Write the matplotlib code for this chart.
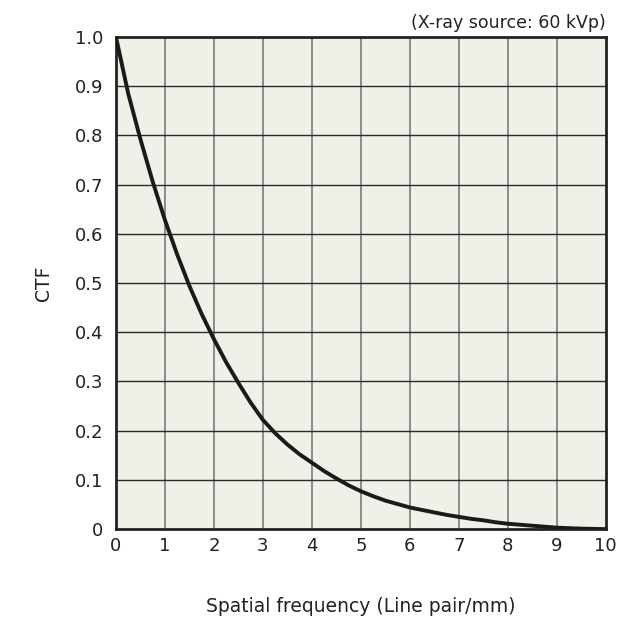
import numpy as np
import matplotlib.pyplot as plt

# values
FREQ = [0, 0.25, 0.5, 0.75, 1, 1.25, 1.5, 1.75, 2, 2.25, 2.5, 2.75, 3, 3.25, 3.5, 3.75,
        4, 4.25, 4.5, 4.75, 5, 5.25, 5.5, 5.75, 6, 6.25, 6.5, 6.75, 7, 7.25, 7.5, 7.75,
        8, 8.25, 8.5, 8.75, 9, 9.25, 9.5, 9.75, 10]
CTF = [1.0, 0.885, 0.792, 0.706, 0.628, 0.558, 0.494, 0.437, 0.386, 0.339, 0.297, 0.257,
       0.222, 0.195, 0.172, 0.152, 0.135, 0.118, 0.103, 0.089, 0.077, 0.067, 0.058, 0.051,
       0.044, 0.039, 0.034, 0.029, 0.025, 0.021, 0.018, 0.014, 0.011, 0.009, 0.007, 0.005,
       0.003, 0.002, 0.001, 0.0005, 0.0]
XTICKS = list(range(0, 11))
YTICKS = [0, 0.1, 0.2, 0.3, 0.4, 0.5, 0.6, 0.7, 0.8, 0.9, 1.0]
YLABELS = ['0', '0.1', '0.2', '0.3', '0.4', '0.5', '0.6', '0.7', '0.8', '0.9', '1.0']

plt.rcParams['font.family'] = ['DejaVu Sans']

fig = plt.figure(figsize=(6.2, 6.24), dpi=100)
ax = fig.add_axes([0.187, 0.152, 0.79, 0.789])
ax.set_facecolor('#f0efe8')

ax.plot(FREQ, CTF, color='#1a1a1a', lw=2.8, solid_capstyle='butt',
        solid_joinstyle='round', zorder=3)

ax.set_xlim(0, 10)
ax.set_ylim(0, 1.0)
ax.set_xticks(XTICKS)
ax.set_yticks(YTICKS)
ax.set_yticklabels(YLABELS)
ax.tick_params(length=0, labelsize=13, colors='#222222')
ax.tick_params(axis='y', pad=9)
ax.tick_params(axis='x', pad=6)

for x in XTICKS[1:-1]:
    ax.axvline(x, color='#7a7a7a', lw=1.2, zorder=1)
for y in YTICKS[1:-1]:
    ax.axhline(y, color='#2a2a2a', lw=1.0, zorder=1)

for s in ax.spines.values():
    s.set_linewidth(2)
    s.set_color('#222222')

ax.set_xlabel('Spatial frequency (Line pair/mm)', fontsize=13.5, color='#222222', labelpad=30)
ax.set_ylabel('CTF', fontsize=13.5, color='#222222', labelpad=16)
ax.text(1.0, 1.01, '(X-ray source: 60 kVp)', transform=ax.transAxes, ha='right', va='bottom',
        fontsize=12.5, color='#222222')

fig.savefig('out.png', dpi=100)
